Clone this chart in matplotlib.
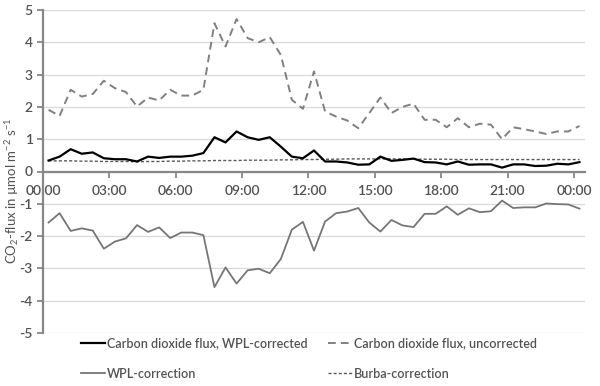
import numpy as np
import matplotlib
matplotlib.use("Agg")
import matplotlib.pyplot as plt

# half-hourly values, 00:00 .. 00:00 (49 points)
wpl_corrected = [0.34, 0.46, 0.69, 0.55, 0.59, 0.41, 0.38, 0.38, 0.31, 0.46,
                 0.42, 0.46, 0.46, 0.49, 0.57, 1.06, 0.90, 1.24, 1.06, 0.98,
                 1.06, 0.77, 0.46, 0.41, 0.65, 0.31, 0.31, 0.28, 0.21, 0.22,
                 0.46, 0.33, 0.36, 0.40, 0.29, 0.28, 0.22, 0.31, 0.21, 0.22,
                 0.22, 0.12, 0.22, 0.22, 0.17, 0.18, 0.24, 0.22, 0.29]
uncorrected = [1.91, 1.72, 2.53, 2.32, 2.40, 2.81, 2.58, 2.46, 2.01, 2.29,
               2.20, 2.53, 2.35, 2.35, 2.53, 4.59, 3.87, 4.72, 4.13, 4.00,
               4.16, 3.61, 2.22, 1.94, 3.10, 1.86, 1.70, 1.58, 1.34, 1.81,
               2.29, 1.81, 2.00, 2.10, 1.60, 1.60, 1.37, 1.65, 1.37, 1.48,
               1.45, 1.00, 1.37, 1.31, 1.24, 1.16, 1.24, 1.24, 1.41]
wpl_correction = [-1.58, -1.29, -1.84, -1.76, -1.83, -2.39, -2.17, -2.07, -1.66, -1.87,
                  -1.73, -2.06, -1.89, -1.89, -1.97, -3.58, -2.97, -3.47, -3.06, -3.01,
                  -3.15, -2.71, -1.80, -1.56, -2.45, -1.55, -1.29, -1.24, -1.13, -1.58,
                  -1.86, -1.50, -1.67, -1.72, -1.31, -1.31, -1.08, -1.34, -1.14, -1.26,
                  -1.23, -0.90, -1.13, -1.11, -1.11, -0.99, -1.01, -1.02, -1.15]
burba = [0.33, 0.33, 0.33, 0.32, 0.32, 0.31, 0.31, 0.31, 0.30, 0.31,
         0.31, 0.32, 0.32, 0.33, 0.33, 0.34, 0.34, 0.34, 0.35, 0.35,
         0.35, 0.36, 0.36, 0.37, 0.37, 0.38, 0.38, 0.39, 0.39, 0.39,
         0.39, 0.39, 0.39, 0.38, 0.38, 0.38, 0.38, 0.37, 0.37, 0.37,
         0.37, 0.37, 0.37, 0.37, 0.37, 0.37, 0.37, 0.37, 0.37]
time_labels = ['00:00', '03:00', '06:00', '09:00', '12:00', '15:00', '18:00', '21:00', '00:00']

plt.rcParams['font.family'] = ['Lato', 'DejaVu Sans']
plt.rcParams['mathtext.fontset'] = 'custom'
plt.rcParams['mathtext.rm'] = 'Lato'
plt.rcParams['mathtext.it'] = 'Lato:italic'
plt.rcParams['axes.unicode_minus'] = False

txt = '#525252'
axc = '#878787'

fig = plt.figure(figsize=(6, 3.86), dpi=100)
ax = fig.add_axes([43/600, 1-333/386, 542/600, 323/386])

x = np.arange(len(wpl_corrected))
l1, = ax.plot(x, wpl_corrected, color='black', lw=1.6, zorder=5,
              label='Carbon dioxide flux, WPL-corrected')
l2, = ax.plot(x, uncorrected, color='#808080', lw=1.4, dashes=(4, 2.6), zorder=4,
              label='Carbon dioxide flux, uncorrected')
l3, = ax.plot(x, wpl_correction, color='#767676', lw=1.3, zorder=4,
              label='WPL-correction')
l4, = ax.plot(x, burba, color='#5a5a5a', lw=1.0, dashes=(2.2, 1.5), zorder=4,
              label='Burba-correction')

ax.set_xlim(-0.5, len(x) - 0.5)
ax.set_ylim(-5, 5)
ax.set_yticks(range(-5, 6))
ax.set_xticks(np.arange(len(time_labels)) * 6 - 0.5)
ax.set_xticklabels(time_labels)

ax.grid(axis='y', color='#d9d9d9', lw=0.9)
ax.set_axisbelow(True)
for s in ['top', 'right']:
    ax.spines[s].set_visible(False)
ax.spines['bottom'].set_position(('data', 0))
ax.spines['bottom'].set_color(axc)
ax.spines['bottom'].set_linewidth(1.6)
ax.spines['left'].set_color(axc)
ax.spines['left'].set_linewidth(1.6)
ax.tick_params(axis='both', colors=axc, width=1.3, length=4, labelcolor=txt, labelsize=10)
ax.tick_params(axis='x', pad=6)
for t in ax.get_xticklabels() + ax.get_yticklabels():
    t.set_fontweight('semibold')

ax.set_ylabel('CO$_2$-flux in µmol m$^{-2}$ s$^{-1}$', color=txt, fontsize=9.5)
ax.yaxis.set_label_coords(-0.041, 0.44)

fig.legend(handles=[l1, l3, l2, l4], ncol=2, frameon=False, loc='upper left',
           bbox_to_anchor=(81/600, 1-337/386), borderpad=0, borderaxespad=0,
           handlelength=1.9, handletextpad=0.2, columnspacing=1.6, labelspacing=1.5,
           labelcolor=txt, prop={'size': 9, 'weight': 'semibold'})

fig.savefig('out.png', dpi=100)
